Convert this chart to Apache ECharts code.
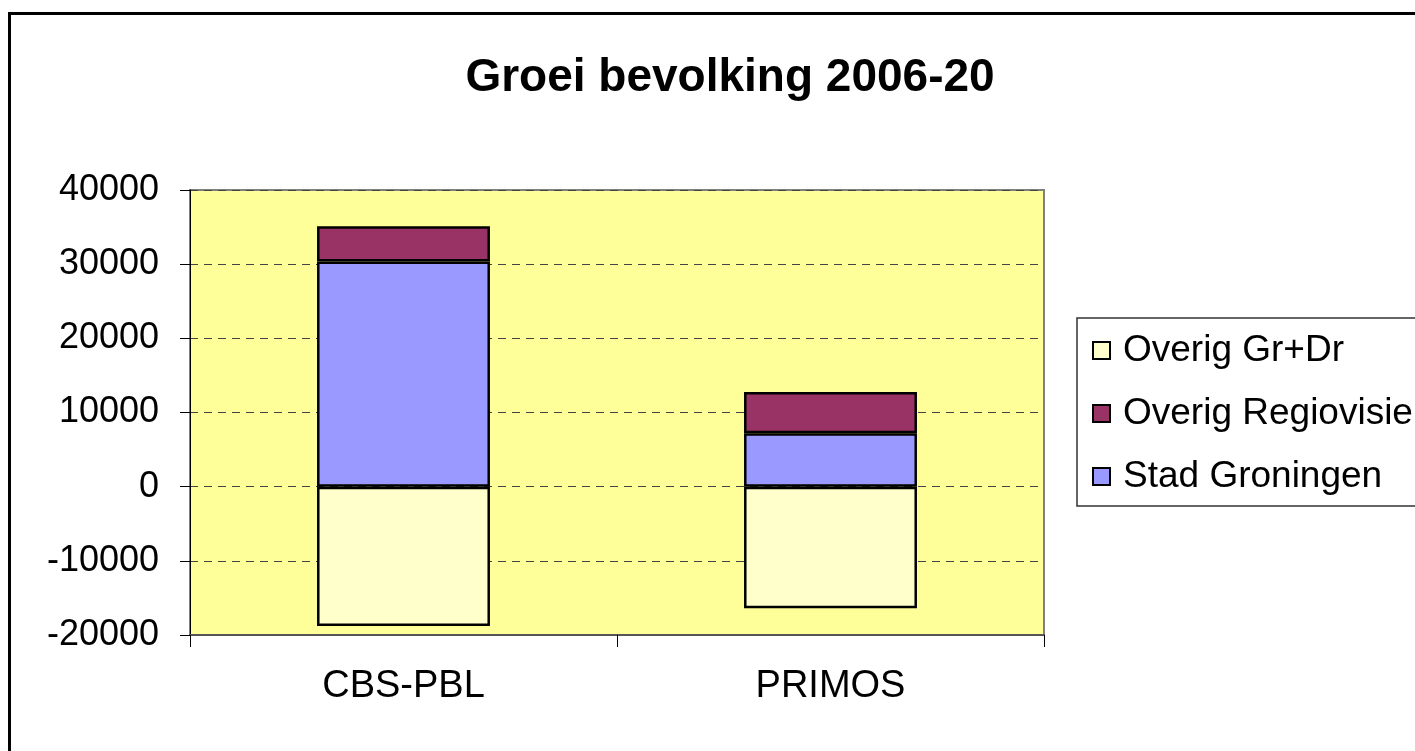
<!DOCTYPE html>
<html>
<head>
<meta charset="utf-8">
<script src="https://cdn.jsdelivr.net/npm/echarts@6/dist/echarts.min.js"></script>
<style>
html,body{margin:0;padding:0;background:#fff;}
#chart{width:1415px;height:751px;}
</style>
</head>
<body>
<div id="chart"></div>
<script>
const categories = ['CBS-PBL', 'PRIMOS'];
const overigGrDr = [-18800, -16400];
const stadGroningen = [30350, 7200];
const overigRegiovisie = [4760, 5550];
const yTicks = { min: -20000, max: 40000, interval: 10000 };
const legendOrder = ['Overig Gr+Dr', 'Overig Regiovisie', 'Stad Groningen'];

const FONT = '"Liberation Sans", Arial, Helvetica, sans-serif';
const chart = echarts.init(document.getElementById('chart'), null, { renderer: 'canvas' });

const barBorder = { borderColor: '#000', borderWidth: 2.5 };

chart.setOption({
  animation: false,
  backgroundColor: '#fff',
  title: {
    text: 'Groei bevolking 2006-20',
    left: 725,
    textAlign: 'center',
    top: 50,
    textStyle: { fontFamily: FONT, fontSize: 46, fontWeight: 'bold', color: '#000' }
  },
  graphic: [{
    type: 'rect',
    shape: { x: 9.5, y: 13.5, width: 2000, height: 2000 },
    style: { fill: 'none', stroke: '#000', lineWidth: 3 },
    z: 100
  }],
  legend: {
    data: legendOrder,
    orient: 'vertical',
    left: 1077,
    top: 318,
    padding: [14, 20, 11, 15],
    itemGap: 26,
    itemWidth: 17,
    itemHeight: 17,
    icon: 'rect',
    borderColor: '#333',
    borderWidth: 1.5,
    textStyle: { fontFamily: FONT, fontSize: 37, color: '#000', lineHeight: 36, padding: [0, 0, 0, 8] }
  },
  grid: {
    left: 190, top: 190, right: 371, bottom: 116,
    show: true,
    backgroundColor: '#FFFF99',
    borderColor: '#808080',
    borderWidth: 2
  },
  xAxis: {
    type: 'category',
    data: categories,
    axisLine: { show: true, onZero: false, lineStyle: { color: '#555', width: 2 } },
    axisTick: { show: true, length: 12, lineStyle: { color: '#000', width: 1 } },
    axisLabel: { fontFamily: FONT, fontSize: 38, color: '#000', margin: 33 },
    splitLine: { show: false }
  },
  yAxis: {
    type: 'value',
    min: yTicks.min, max: yTicks.max, interval: yTicks.interval,
    axisLine: { show: true, lineStyle: { color: '#000', width: 1 } },
    axisTick: { show: true, length: 10, lineStyle: { color: '#000', width: 1 } },
    axisLabel: { fontFamily: FONT, fontSize: 36, color: '#000', margin: 31, formatter: function (v) { return String(v); } },
    splitLine: { show: true, lineStyle: { color: '#444', width: 1, type: [8, 6] } }
  },
  series: [
    {
      name: 'Overig Gr+Dr', type: 'bar', stack: 'total', barWidth: '40.5%',
      data: overigGrDr,
      itemStyle: Object.assign({ color: '#FFFFCC' }, barBorder)
    },
    {
      name: 'Stad Groningen', type: 'bar', stack: 'total', barWidth: '40.5%',
      data: stadGroningen,
      itemStyle: Object.assign({ color: '#9999FF' }, barBorder)
    },
    {
      name: 'Overig Regiovisie', type: 'bar', stack: 'total', barWidth: '40.5%',
      data: overigRegiovisie,
      itemStyle: Object.assign({ color: '#993366' }, barBorder)
    }
  ]
});
</script>
</body>
</html>
